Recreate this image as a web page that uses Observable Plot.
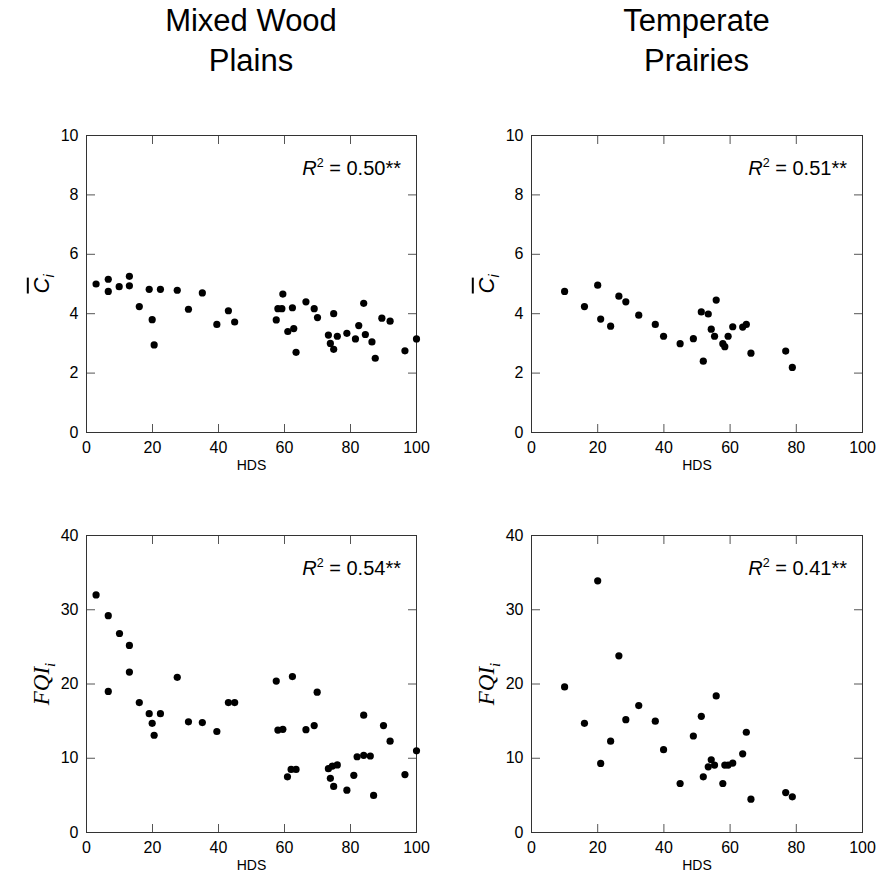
<!DOCTYPE html>
<html>
<head>
<meta charset="utf-8">
<script src="https://cdn.jsdelivr.net/npm/d3@7"></script>
<script src="https://cdn.jsdelivr.net/npm/@observablehq/plot@0.6"></script>
<style>
  html, body { margin: 0; padding: 0; background: #fff; }
  #root { position: relative; width: 877px; height: 880px; font-family: "Liberation Sans", Arial, sans-serif; color: #000; overflow: hidden; }
  .title { position: absolute; width: 320px; text-align: center; font-size: 31px; line-height: 40px; transform: translateX(-50%); }
  .ylab { position: absolute; transform: translate(-50%, -50%) rotate(-90deg); white-space: nowrap; }
</style>
</head>
<body>
<div id="root"></div>
<script>
// ---------- data ----------
const regionTitles = ["Mixed Wood\nPlains", "Temperate\nPrairies"];
const xTicks = [0, 20, 40, 60, 80, 100];
const cTicks = [0, 2, 4, 6, 8, 10];
const fqiTicks = [0, 10, 20, 30, 40];
const r2Labels = ["0.50**", "0.51**", "0.54**", "0.41**"];

// Mixed Wood Plains – mean C
const mwpCHDS = [2.9, 6.6, 6.6, 9.9, 13.0, 13.0, 16.0, 19.0, 19.9, 20.5, 22.4, 27.5, 30.9, 35.1, 39.5, 43.0, 44.9,
  57.5, 58.0, 59.2, 59.5, 61.0, 62.4, 62.8, 63.5, 66.5, 69.0, 70.0, 73.3, 73.9, 74.9, 74.9, 76.0, 78.9,
  81.5, 82.5, 84.0, 84.5, 86.5, 87.5, 89.5, 92.0, 96.5, 100.0];
const mwpC = [5.00, 5.16, 4.75, 4.91, 5.26, 4.94, 4.24, 4.82, 3.80, 2.95, 4.82, 4.79, 4.15, 4.70, 3.64, 4.10, 3.72,
  3.79, 4.17, 4.17, 4.66, 3.40, 4.20, 3.50, 2.70, 4.40, 4.17, 3.87, 3.28, 3.00, 4.00, 2.80, 3.24, 3.34,
  3.15, 3.60, 4.35, 3.30, 3.05, 2.50, 3.85, 3.75, 2.75, 3.15];

// Mixed Wood Plains – FQI
const mwpFHDS = [2.9, 6.6, 6.6, 10.0, 13.0, 13.0, 16.0, 19.0, 19.9, 20.5, 22.4, 27.5, 30.9, 35.1, 39.5, 43.0, 44.9,
  57.5, 58.0, 59.5, 60.9, 62.0, 62.4, 63.5, 66.5, 69.0, 69.9, 73.3, 73.9, 74.5, 74.9, 76.0, 78.9,
  81.0, 82.0, 84.0, 84.0, 86.0, 87.0, 90.0, 92.0, 96.5, 100.0];
const mwpFQI = [32.0, 29.2, 19.0, 26.8, 25.2, 21.6, 17.5, 16.0, 14.7, 13.1, 16.0, 20.9, 14.9, 14.8, 13.6, 17.5, 17.5,
  20.4, 13.8, 13.9, 7.5, 8.5, 21.0, 8.5, 13.85, 14.4, 18.9, 8.6, 7.3, 8.95, 6.2, 9.1, 5.7,
  7.7, 10.2, 15.8, 10.4, 10.3, 5.0, 14.4, 12.3, 7.8, 11.0];

// Temperate Prairies – mean C
const tpCHDS = [10.0, 16.0, 20.0, 20.9, 23.9, 26.4, 28.5, 32.4, 37.4, 39.9, 44.9, 48.9, 51.3, 51.9, 53.4, 54.3,
  55.3, 55.8, 57.8, 58.4, 59.4, 60.8, 63.8, 64.9, 66.3, 76.8, 78.8];
const tpC = [4.75, 4.24, 4.96, 3.82, 3.58, 4.59, 4.40, 3.95, 3.64, 3.24, 2.99, 3.16, 4.06, 2.40, 3.99, 3.48,
  3.24, 4.46, 2.99, 2.89, 3.24, 3.56, 3.55, 3.64, 2.67, 2.74, 2.19];

// Temperate Prairies – FQI
const tpFHDS = [10.0, 16.0, 20.0, 20.9, 23.9, 26.4, 28.5, 32.4, 37.4, 39.9, 44.9, 48.9, 51.3, 51.9, 53.4, 54.3,
  55.3, 55.8, 57.8, 58.4, 59.4, 60.8, 63.8, 64.9, 66.3, 76.8, 78.8];
const tpFQI = [19.6, 14.7, 33.9, 9.3, 12.3, 23.8, 15.2, 17.1, 15.0, 11.15, 6.6, 13.0, 15.65, 7.5, 8.85, 9.8,
  9.08, 18.4, 6.6, 9.08, 9.08, 9.35, 10.6, 13.5, 4.49, 5.38, 4.8];

// ---------- layout ----------
const root = document.getElementById("root");
const FONT = "Liberation Sans, Arial, sans-serif";

function panel({hds, vals, yDomain, yTicks, r2, left, top, width, height, mt, mb, ml, mr}) {
  const data = hds.map((h, i) => ({h, v: vals[i]}));
  const svg = Plot.plot({
    width, height,
    marginTop: mt, marginBottom: mb, marginLeft: ml, marginRight: mr,
    style: {fontFamily: FONT, fontSize: "16px", background: "transparent", color: "#000", overflow: "visible"},
    x: {domain: [0, 100], label: null},
    y: {domain: yDomain, label: null},
    marks: [
      Plot.axisX(xTicks, {anchor: "bottom", tickSize: 0, tickPadding: 9, fontSize: 16, label: null}),
      Plot.axisY(yTicks, {anchor: "left", tickSize: 0, tickPadding: 8, fontSize: 16, label: null}),
      Plot.axisX(xTicks, {anchor: "bottom", tickSize: 8, dy: -8, fill: "none", stroke: "#555", label: null}),
      Plot.axisX(xTicks, {anchor: "top", tickSize: 8, dy: 8, fill: "none", stroke: "#555", label: null}),
      Plot.axisY(yTicks, {anchor: "left", tickSize: 9, dx: 9, fill: "none", stroke: "#555", label: null}),
      Plot.axisY(yTicks, {anchor: "right", tickSize: 9, dx: -9, fill: "none", stroke: "#555", label: null}),
      Plot.frame({stroke: "#333"}),
      Plot.dot(data, {x: "h", y: "v", r: 3.6, fill: "#000", stroke: null}),
      Plot.text(["HDS"], {frameAnchor: "bottom", dy: 37, lineAnchor: "bottom", fontSize: 14, fill: "#000"})
    ]
  });
  svg.style.position = "absolute";
  svg.style.left = left + "px";
  svg.style.top = top + "px";
  // R² annotation
  const t = d3.select(svg).append("text")
    .attr("x", width - mr - 15)
    .attr("y", mt + 40)
    .attr("text-anchor", "end")
    .attr("font-family", FONT)
    .attr("font-size", 20)
    .attr("fill", "#000");
  t.append("tspan").attr("font-style", "italic").text("R");
  t.append("tspan").attr("font-size", 12.5).attr("dy", -8).text("2");
  t.append("tspan").attr("dy", 8).text(" = " + r2);
  root.appendChild(svg);
}

const colL = {left: 0, width: 440, ml: 86, mr: 24};
const colR = {left: 440, width: 437, ml: 91, mr: 15};
const rowT = {top: 0, height: 480, mt: 135, mb: 48};
const rowB = {top: 480, height: 400, mt: 55, mb: 48};

panel({hds: mwpCHDS, vals: mwpC, yDomain: [0, 10], yTicks: cTicks, r2: r2Labels[0], ...colL, ...rowT});
panel({hds: tpCHDS, vals: tpC, yDomain: [0, 10], yTicks: cTicks, r2: r2Labels[1], ...colR, ...rowT});
panel({hds: mwpFHDS, vals: mwpFQI, yDomain: [0, 40], yTicks: fqiTicks, r2: r2Labels[2], ...colL, ...rowB});
panel({hds: tpFHDS, vals: tpFQI, yDomain: [0, 40], yTicks: fqiTicks, r2: r2Labels[3], ...colR, ...rowB});

// titles
[[251, regionTitles[0]], [696.5, regionTitles[1]]].forEach(([cx, txt]) => {
  const d = document.createElement("div");
  d.className = "title";
  d.style.left = cx + "px";
  d.style.top = "1px";
  d.innerHTML = txt.split("\n").join("<br>");
  root.appendChild(d);
});

// y labels
function ylab(cx, cy, html, serif, size) {
  const d = document.createElement("div");
  d.className = "ylab";
  d.style.left = cx + "px";
  d.style.top = cy + "px";
  d.style.fontSize = size + "px";
  if (serif) d.style.fontFamily = "Liberation Serif, Times New Roman, serif";
  d.innerHTML = html;
  root.appendChild(d);
}
const cHtml = '<i><span style="text-decoration:overline">C</span><sub style="font-size:14px">i</sub></i>';
const fHtml = '<i>FQI<sub style="font-size:15px">i</sub></i>';
ylab(43, 283.5, cHtml, false, 22);
ylab(488, 283.5, cHtml, false, 22);
ylab(44, 683.5, fHtml, true, 23);
ylab(489, 683.5, fHtml, true, 23);
</script>
</body>
</html>
